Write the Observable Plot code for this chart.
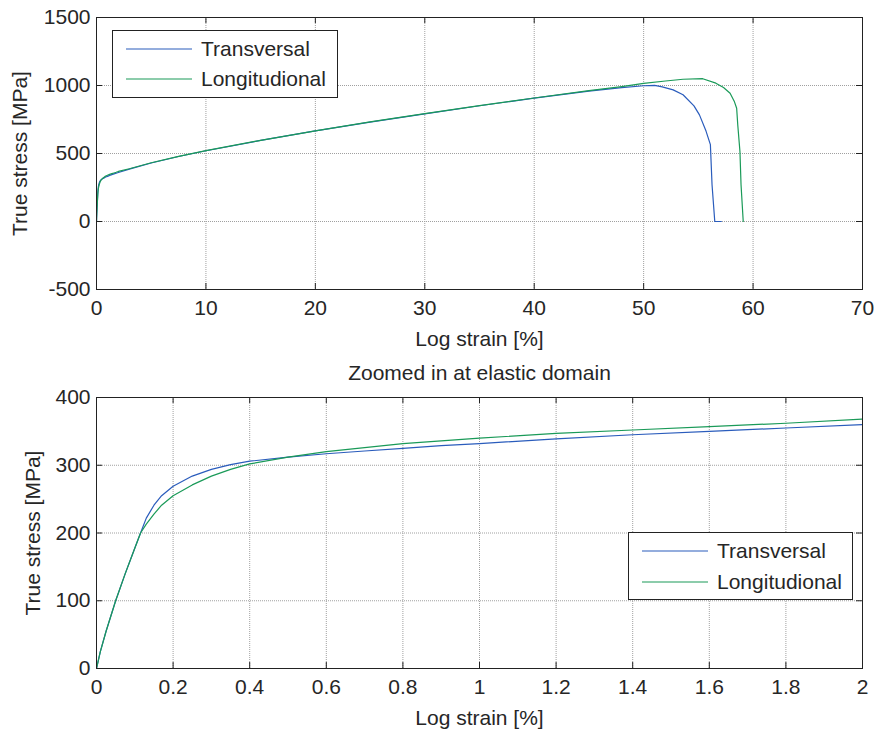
<!DOCTYPE html>
<html>
<head>
<meta charset="utf-8">
<script src="https://cdn.jsdelivr.net/npm/d3@7"></script>
<script src="https://cdn.jsdelivr.net/npm/@observablehq/plot@0.6"></script>
<style>
  html, body { margin: 0; padding: 0; background: #fff; }
  #wrap { position: relative; width: 875px; height: 731px; font-family: "Liberation Sans", Arial, sans-serif; color: #262626; }
  #wrap svg { display: block; }
  .legend { position: absolute; background: #fff; border: 1px solid #222; box-sizing: border-box; }
  .legend svg { position: absolute; left: 0; top: 0; overflow: visible; }
</style>
</head>
<body>
<div id="wrap"></div>
<script>
// ---------- data ----------
const seriesNames = ["Transversal", "Longitudional"];
const seriesColors = ["#2a5cbc", "#1a9a58"];

const transStrain = [0, 0.01, 0.025, 0.05, 0.075, 0.095, 0.115, 0.13, 0.15, 0.17, 0.2, 0.25, 0.3, 0.35, 0.4, 0.5, 0.6, 0.7, 0.8, 0.9, 1.0, 1.2, 1.4, 1.6, 1.8, 2.0,
  3, 5, 7.5, 10, 15, 20, 25, 30, 35, 40, 45, 48, 50, 51, 51.7, 52.7, 53.6, 54.6, 55.1, 55.7, 56.1, 56.25, 56.5, 57.1];
const transStress = [0, 25, 55, 100, 140, 170, 200, 222, 241, 255, 269, 284, 294, 301, 306, 312, 317, 321, 325, 329, 332, 339, 345, 350, 355, 360,
  385, 430, 478, 520, 596, 666, 731, 792, 851, 907, 958, 985, 998, 1001, 990, 968, 932, 850, 784, 665, 565, 270, 0, 0];

const longStrain = [0, 0.01, 0.025, 0.05, 0.075, 0.095, 0.115, 0.13, 0.15, 0.17, 0.2, 0.25, 0.3, 0.35, 0.4, 0.5, 0.6, 0.7, 0.8, 0.9, 1.0, 1.2, 1.4, 1.6, 1.8, 2.0,
  3, 5, 7.5, 10, 15, 20, 25, 30, 35, 40, 45, 48, 50, 52, 53.6, 55.4, 56.6, 57.3, 57.9, 58.3, 58.5, 58.6, 58.8, 58.9, 59.1];
const longStress = [0, 25, 55, 100, 140, 170, 200, 213, 228, 241, 255, 271, 284, 294, 302, 312, 320, 326, 332, 336, 340, 347, 352, 357, 362, 368,
  388, 432, 479, 521, 597, 667, 732, 793, 852, 908, 962, 992, 1015, 1033, 1046, 1050, 1017, 985, 943, 880, 833, 711, 515, 270, 0];

const xTicksTop = [0, 10, 20, 30, 40, 50, 60, 70];
const yTicksTop = [-500, 0, 500, 1000, 1500];
const xTicksBottom = [0, 0.2, 0.4, 0.6, 0.8, 1, 1.2, 1.4, 1.6, 1.8, 2];
const yTicksBottom = [0, 100, 200, 300, 400];

const xLabel = "Log strain [%]";
const yLabel = "True stress [MPa]";
const bottomTitle = "Zoomed in at elastic domain";

// ---------- build rows ----------
const rows = [
  ...transStrain.map((s, i) => ({series: seriesNames[0], strain: s, stress: transStress[i]})),
  ...longStrain.map((s, i) => ({series: seriesNames[1], strain: s, stress: longStress[i]}))
];

const FONT = "\"Liberation Sans\", Arial, sans-serif";

function chart({xDomain, yDomain, xTicks, yTicks, height, mt, mb, yLabelDx, title}) {
  const W = 875, ml = 96, mr = 13;
  const fw = W - ml - mr, fh = height - mt - mb;
  const marks = [
    Plot.gridX(xTicks, {stroke: "#a0a0a0", strokeOpacity: 1, strokeDasharray: "1,1"}),
    Plot.gridY(yTicks, {stroke: "#a0a0a0", strokeOpacity: 1, strokeDasharray: "1,1"}),
    Plot.line(rows, {x: "strain", y: "stress", z: "series", stroke: "series", strokeWidth: 1.2, clip: true}),
    Plot.tickX(xTicks, {x: d => d, insetTop: fh - 6, stroke: "#222"}),
    Plot.tickX(xTicks, {x: d => d, insetBottom: fh - 6, stroke: "#222"}),
    Plot.tickY(yTicks, {y: d => d, insetRight: fw - 6, stroke: "#222"}),
    Plot.tickY(yTicks, {y: d => d, insetLeft: fw - 6, stroke: "#222"}),
    Plot.frame({stroke: "#222"}),
    Plot.axisX(xTicks, {tickSize: 0, tickPadding: 11, label: null, tickFormat: d => String(d), fill: "#262626"}),
    Plot.axisY(yTicks, {tickSize: 0, tickPadding: 6, label: null, tickFormat: d => String(d), fill: "#262626"}),
    Plot.text([xLabel], {frameAnchor: "bottom", lineAnchor: "bottom", dy: 56, text: d => d, fill: "#262626"}),
    Plot.text([yLabel], {frameAnchor: "left", textAnchor: "middle", rotate: -90, dx: yLabelDx, lineAnchor: "middle", text: d => d, fill: "#262626"})
  ];
  if (title) marks.push(Plot.text([title], {frameAnchor: "top", lineAnchor: "bottom", dy: -18, text: d => d, fill: "#262626"}));
  return Plot.plot({
    width: W, height,
    marginLeft: ml, marginRight: mr, marginTop: mt, marginBottom: mb,
    x: {domain: xDomain},
    y: {domain: yDomain},
    color: {domain: seriesNames, range: seriesColors},
    style: {fontFamily: FONT, fontSize: "21px", color: "#262626", background: "#fff", overflow: "visible"},
    marks
  });
}

const wrap = document.getElementById("wrap");
wrap.appendChild(chart({xDomain: [0, 70], yDomain: [-500, 1500], xTicks: xTicksTop, yTicks: yTicksTop,
  height: 352, mt: 17, mb: 63, yLabelDx: -76}));
wrap.appendChild(chart({xDomain: [0, 2], yDomain: [0, 400], xTicks: xTicksBottom, yTicks: yTicksBottom,
  height: 379, mt: 45, mb: 63, yLabelDx: -63, title: bottomTitle}));

// ---------- legends ----------
function legend(left, top, w, h, lineX0, lineX1, textX, rowY) {
  const div = document.createElement("div");
  div.className = "legend";
  Object.assign(div.style, {left: left + "px", top: top + "px", width: w + "px", height: h + "px"});
  const ns = "http://www.w3.org/2000/svg";
  const svg = document.createElementNS(ns, "svg");
  svg.setAttribute("width", w); svg.setAttribute("height", h);
  seriesNames.forEach((name, i) => {
    const ln = document.createElementNS(ns, "line");
    ln.setAttribute("x1", lineX0); ln.setAttribute("x2", lineX1);
    ln.setAttribute("y1", rowY[i]); ln.setAttribute("y2", rowY[i]);
    ln.setAttribute("stroke", seriesColors[i]); ln.setAttribute("stroke-width", 1.2);
    svg.appendChild(ln);
    const t = document.createElementNS(ns, "text");
    t.setAttribute("x", textX); t.setAttribute("y", rowY[i]);
    t.setAttribute("dy", "0.35em");
    t.setAttribute("fill", "#262626");
    t.setAttribute("font-family", FONT); t.setAttribute("font-size", "21px");
    t.textContent = name;
    svg.appendChild(t);
  });
  div.appendChild(svg);
  wrap.appendChild(div);
}
legend(112, 30, 226, 68, 13, 79, 88, [18, 48]);
legend(628, 532, 225, 68, 13, 79, 88, [18, 49]);
</script>
</body>
</html>
